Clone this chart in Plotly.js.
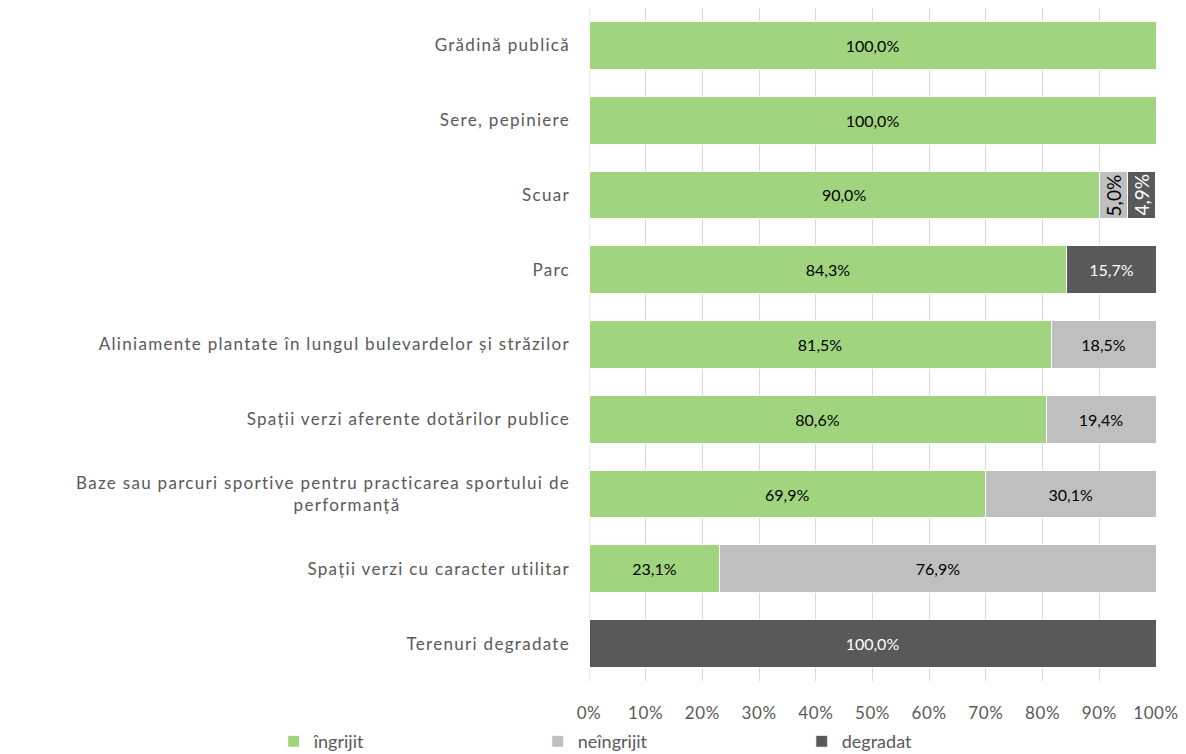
<!DOCTYPE html>
<html>
<head>
<meta charset="utf-8">
<script src="https://cdn.plot.ly/plotly-3.0.1.min.js"></script>
<style>
  html, body { margin: 0; padding: 0; background: #fff; }
  #chart { width: 1186px; height: 754px; }
  /* Excel-like loose spacing of the category labels */
  .ytick text { letter-spacing: 1.3px; }
  .xtick text { letter-spacing: 0.6px; }
</style>
</head>
<body>
<div id="chart"></div>
<script>
// categories, top to bottom
var categorii = [
  'Grădină publică',
  'Sere, pepiniere',
  'Scuar',
  'Parc',
  'Aliniamente plantate în lungul bulevardelor și străzilor',
  'Spații verzi aferente dotărilor publice',
  'Baze sau parcuri sportive pentru practicarea sportului de<br>performanță' + '\u00a0'.repeat(30),
  'Spații verzi cu caracter utilitar',
  'Terenuri degradate'
];

var ingrijit    = [100.0, 100.0, 90.0, 84.3, 81.5, 80.6, 69.9, 23.1, null];
var neingrijit  = [null, null, 5.0, null, 18.5, 19.4, 30.1, 76.9, null];
var degradat    = [null, null, 4.9, 15.7, null, null, null, null, 100.0];

var tickVals = [0, 10, 20, 30, 40, 50, 60, 70, 80, 90, 100];

function fmt(v) { return v.toFixed(1).replace('.', ',') + '%'; }

// narrow segments get a rotated label (annotation) instead of the bar text
var NARROW = 8;
var rotated = [];

function serie(name, vals, offsets, color, txtColor) {
  var labels = vals.map(function (v, i) {
    if (v === null) return '';
    if (v < NARROW) {
      rotated.push({ x: offsets[i] + v / 2, y: categorii[i], text: fmt(v), color: txtColor });
      return '';
    }
    return fmt(v);
  });
  return {
    type: 'bar',
    orientation: 'h',
    name: name,
    y: categorii,
    x: vals,
    text: labels,
    texttemplate: '%{text}',
    textposition: 'inside',
    insidetextanchor: 'middle',
    textangle: 0,
    insidetextfont: { family: 'Lato, sans-serif', size: 16, color: txtColor },
    marker: { color: color, line: { color: '#ffffff', width: 1 } },
    hoverinfo: 'none'
  };
}

function add(a, b) {
  return a.map(function (v, i) { return (v || 0) + (b[i] || 0); });
}
var zero = categorii.map(function () { return 0; });

var data = [
  serie('îngrijit', ingrijit, zero, '#a0d47f', '#000000'),
  serie('neîngrijit', neingrijit, add(zero, ingrijit), '#bfbfbf', '#000000'),
  serie('degradat', degradat, add(ingrijit, neingrijit), '#595959', '#ffffff')
];

var annotations = rotated.map(function (r) {
  return {
    xref: 'x', yref: 'y', x: r.x, y: r.y,
    text: r.text, textangle: -90, showarrow: false,
    font: { family: 'Lato, sans-serif', size: 19, color: r.color }
  };
});

var layout = {
  width: 1186,
  height: 754,
  barmode: 'stack',
  bargap: 0.36,
  showlegend: true,
  paper_bgcolor: '#fff',
  plot_bgcolor: '#fff',
  margin: { l: 589, r: 30, t: 8, b: 73, autoexpand: false },
  font: { family: 'Lato, sans-serif', size: 17, color: '#595959' },
  annotations: annotations,
  xaxis: {
    range: [0, 100],
    tickvals: tickVals,
    ticktext: tickVals.map(function (v) { return v + '%'; }),
    showgrid: true,
    gridcolor: '#d9d9d9',
    gridwidth: 1,
    zeroline: false,
    showline: false,
    ticks: '',
    ticklabelstandoff: 20,
    tickfont: { size: 17, color: '#595959' },
    automargin: false,
    fixedrange: true
  },
  yaxis: {
    autorange: 'reversed',
    showgrid: false,
    zeroline: false,
    showline: false,
    ticks: '',
    ticklabelstandoff: 18,
    tickfont: { size: 17, color: '#595959' },
    automargin: false,
    fixedrange: true
  },
  shapes: [{
    type: 'line', xref: 'x', yref: 'paper',
    x0: 0, x1: 0, y0: 0, y1: 1,
    line: { color: '#d9d9d9', width: 1 }, layer: 'below'
  }],
  legend: {
    orientation: 'h',
    x: -0.556,
    xanchor: 'left',
    y: -0.09,
    yanchor: 'middle',
    entrywidth: 219,
    itemwidth: 30,
    traceorder: 'normal',
    font: { size: 18, color: '#595959' }
  }
};

Plotly.newPlot('chart', data, layout, { displayModeBar: false, staticPlot: true });
</script>
</body>
</html>
